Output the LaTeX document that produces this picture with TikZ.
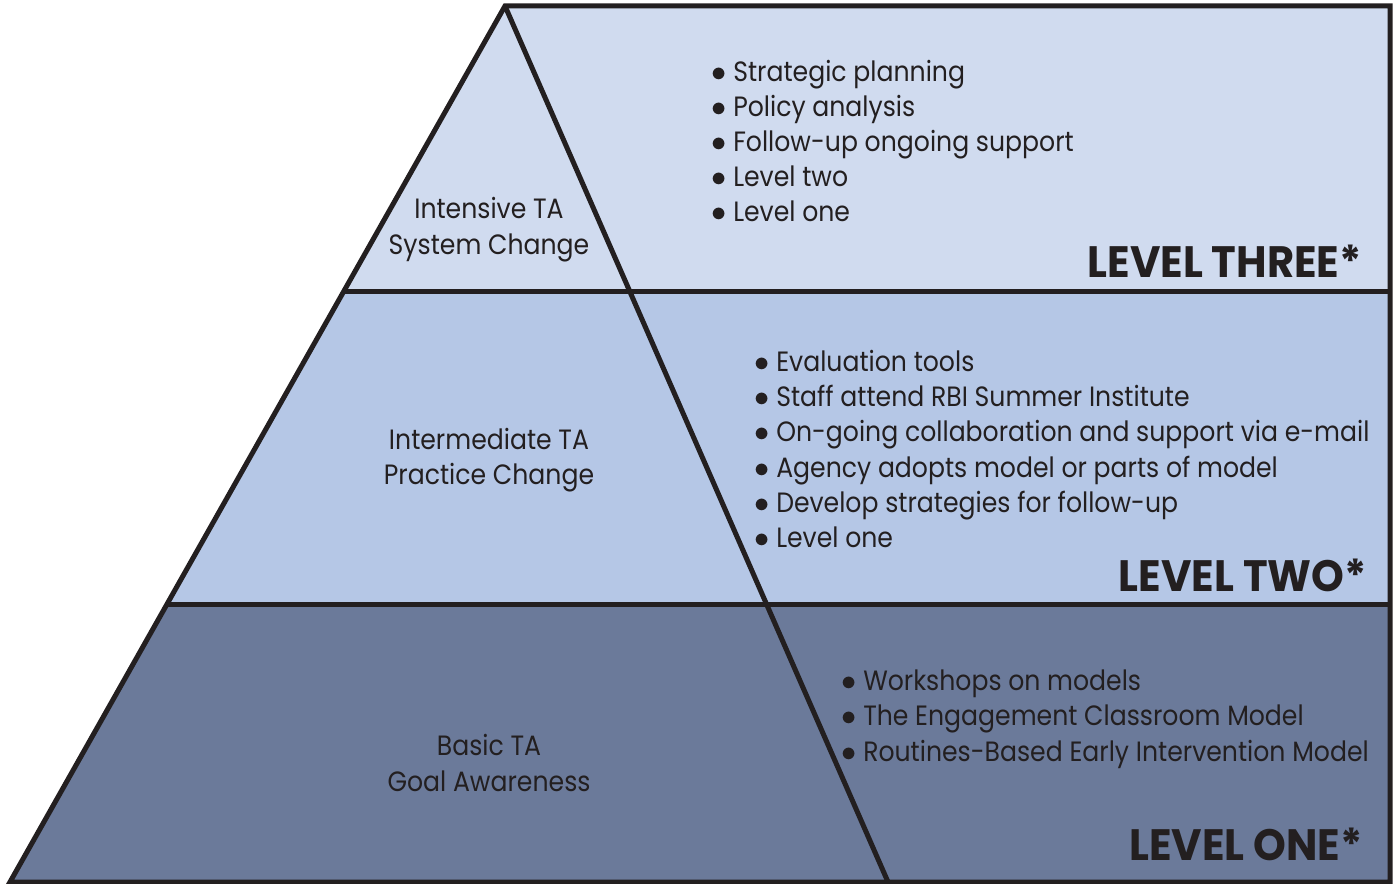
\documentclass[tikz,border=0pt]{standalone}
\usepackage{fontspec}
\setmainfont{Poppins}[FakeStretch=0.9]
\newfontfamily\levelfont{Poppins}[FakeStretch=0.95]
\definecolor{inktext}{HTML}{231F20}
\definecolor{bandthree}{HTML}{D0DBEF}
\definecolor{bandtwo}{HTML}{B5C7E6}
\definecolor{bandone}{HTML}{6B7A9A}
\newcommand{\itemdot}{$\bullet$\ }
\begin{document}
\begin{tikzpicture}[x=0.02cm, y=-0.02cm,
        outline/.style={draw=inktext, line width=0.1cm, line join=miter},
        item/.style={anchor=base west, inner sep=0pt, text=inktext, font=\fontsize{15.9pt}{19pt}\selectfont},
        tier/.style={anchor=base, inner sep=0pt, text=inktext, font=\fontsize{15.9pt}{19pt}\selectfont},
        level/.style={anchor=base east, inner sep=0pt, text=inktext, font=\fontsize{25pt}{30pt}\levelfont\bfseries},]

        \useasboundingbox (0,0) rectangle (1396,884);

        % Bands
        \fill[bandthree] (505,6) -- (1390,6) -- (1390,292) -- (343,292) -- cycle;
        \fill[bandtwo] (343,292) -- (1390,292) -- (1390,605) -- (167,605) -- cycle;
        \fill[bandone] (167,605) -- (1390,605) -- (1390,882) -- (10,882) -- cycle;

        % Frame
        \coordinate (apex) at (505,6);
        \coordinate (foot) at (888,882);
        \coordinate (l3) at (343,292);
        \coordinate (r3) at (1390,292);
        \coordinate (l2) at (167,605);
        \coordinate (r2) at (1390,605);
        \draw[outline] (apex) -- (1390,6) -- (1390,882) -- (10,882) -- cycle;
        \draw[outline] (apex) -- (foot);
        \draw[outline] (l3) -- (r3);
        \draw[outline] (l2) -- (r2);

        % Tiers
        \node[tier] (t3a) at (489,219) {Intensive TA};
        \node[tier] (t3b) at (489,255) {System Change};
        \node[tier] (t2a) at (489,450) {Intermediate TA};
        \node[tier] (t2b) at (489,485) {Practice Change};
        \node[tier] (t1a) at (489,755) {Basic TA};
        \node[tier] (t1b) at (489,791) {Goal Awareness};

        % Level three items
        \node[item] (i31) at (711,82)  {\itemdot Strategic planning};
        \node[item] (i32) at (711,117) {\itemdot Policy analysis};
        \node[item] (i33) at (711,152) {\itemdot Follow-up ongoing support};
        \node[item] (i34) at (711,187) {\itemdot Level two};
        \node[item] (i35) at (711,222) {\itemdot Level one};

        % Level two items
        \node[item] (i21) at (754,372) {\itemdot Evaluation tools};
        \node[item] (i22) at (754,407) {\itemdot Staff attend RBI Summer Institute};
        \node[item] (i23) at (754,442) {\itemdot On-going collaboration and support via e-mail};
        \node[item] (i24) at (754,478) {\itemdot Agency adopts model or parts of model};
        \node[item] (i25) at (754,513) {\itemdot Develop strategies for follow-up};
        \node[item] (i26) at (754,548) {\itemdot Level one};

        % Level one items
        \node[item] (i11) at (841,690) {\itemdot Workshops on models};
        \node[item] (i12) at (841,725) {\itemdot The Engagement Classroom Model};
        \node[item] (i13) at (841,761) {\itemdot Routines-Based Early Intervention Model};

        % Level labels
        \node[level] (lv3) at (1362,278) {LEVEL THREE*};
        \node[level] (lv2) at (1367,592) {LEVEL TWO*};
        \node[level] (lv1) at (1363,860) {LEVEL ONE*};
    \end{tikzpicture}
\end{document}
